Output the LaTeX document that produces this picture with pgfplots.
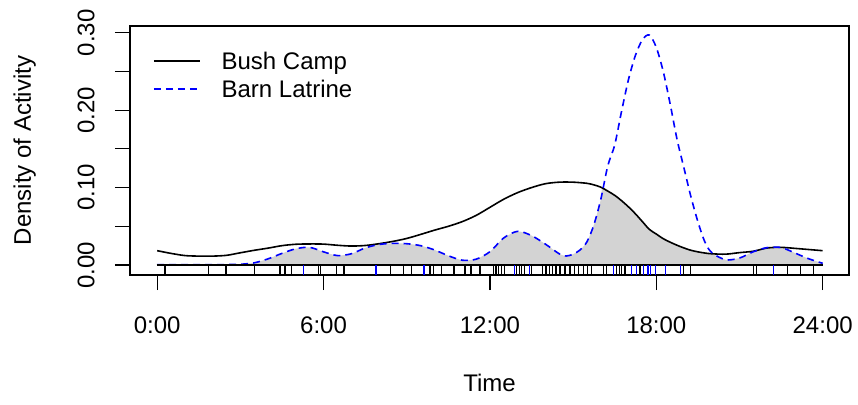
\documentclass[border=0pt]{standalone}
\usepackage{pgfplots}
\pgfplotsset{compat=1.18}
\usepackage{pgfplotstable}
\usepackage{fontspec}
\setmainfont{Liberation Sans}
\definecolor{olap}{HTML}{D3D3D3}
\definecolor{rblue}{HTML}{0000FF}

\pgfplotstableread{
h d
0 0.0185
0.5 0.0150
1 0.0122
1.5 0.0115
2 0.0115
2.5 0.0125
3 0.0158
3.5 0.0190
4 0.0218
4.5 0.0250
5 0.0268
5.5 0.0272
6 0.0270
6.5 0.0255
7 0.0245
7.5 0.0252
8 0.0275
8.5 0.0305
9 0.0343
9.5 0.0395
10 0.0450
10.5 0.0500
11 0.0560
11.5 0.0640
12 0.0745
12.5 0.0850
13 0.0935
13.5 0.1000
14 0.1050
14.5 0.1070
15 0.1070
15.5 0.1055
15.75 0.1035
16 0.1005
16.25 0.0955
16.5 0.0900
16.75 0.0830
17 0.0750
17.25 0.0660
17.5 0.0560
17.75 0.0460
18 0.0400
18.25 0.0340
18.5 0.0295
18.75 0.0255
19 0.0220
19.25 0.0190
19.5 0.0170
19.75 0.0155
20 0.0145
20.5 0.0140
21 0.0160
21.5 0.0178
22 0.0220
22.5 0.0228
23 0.0215
23.5 0.0200
24 0.0185
}\bush

\pgfplotstableread{
h d
0 0.0005
1 0.0005
2 0.0005
2.5 0.0006
3 0.0010
3.5 0.0028
4 0.0080
4.5 0.0150
5 0.0210
5.5 0.0228
6 0.0170
6.5 0.0122
7 0.0145
7.5 0.0220
8 0.0265
8.5 0.0280
9 0.0275
9.5 0.0250
10 0.0195
10.5 0.0120
11 0.0062
11.5 0.0075
12 0.0172
12.5 0.0350
13 0.0435
13.5 0.0380
14 0.0270
14.5 0.0145
14.75 0.0116
15 0.0140
15.25 0.0194
15.5 0.0300
15.75 0.0520
16 0.0850
16.25 0.1280
16.5 0.1550
16.75 0.1990
17 0.2400
17.25 0.2710
17.5 0.2910
17.75 0.2970
18 0.2810
18.25 0.2500
18.5 0.2080
18.75 0.1620
19 0.1250
19.25 0.0880
19.5 0.0560
19.75 0.0300
20 0.0160
20.5 0.0068
21 0.0090
21.5 0.0172
22 0.0225
22.5 0.0226
23 0.0155
23.5 0.0080
24 0.0022
}\barn

\pgfplotstableread{
h d
0 0
0 0.0005
1 0.0005
2 0.0005
2.5 0.0006
3 0.0010
3.5 0.0028
4 0.0080
4.5 0.0150
5 0.0210
5.5 0.0228
6 0.0170
6.5 0.0122
7 0.0145
7.5 0.0220
8 0.0265
8.5 0.0280
9 0.0275
9.5 0.0250
10 0.0195
10.5 0.0120
11 0.0062
11.5 0.0075
12 0.0172
12.5 0.0350
13 0.0435
13.5 0.0380
14 0.0270
14.5 0.0145
14.75 0.0116
15 0.0140
15.25 0.0194
15.5 0.0300
15.75 0.0520
16 0.0850
16.05 0.0990
16.25 0.0955
16.5 0.0900
16.75 0.0830
17 0.0750
17.25 0.0660
17.5 0.0560
17.75 0.0460
18 0.0400
18.25 0.0340
18.5 0.0295
18.75 0.0255
19 0.0220
19.25 0.0190
19.5 0.0170
19.75 0.0155
20 0.0145
20.5 0.0068
21 0.0090
21.5 0.0172
22 0.0220
22.5 0.0226
23 0.0155
23.5 0.0080
24 0.0022
24 0
}\overlapmin

\pgfplotstableread{
h y
0.28 -0.013
1.84 -0.013
2.48 -0.013
3.52 -0.013
4.43 -0.013
4.61 -0.013
4.85 -0.013
5.82 -0.013
5.88 -0.013
6.47 -0.013
6.74 -0.013
8.42 -0.013
8.87 -0.013
9.18 -0.013
9.84 -0.013
9.96 -0.013
10.26 -0.013
10.68 -0.013
10.72 -0.013
11.10 -0.013
11.32 -0.013
11.64 -0.013
12.12 -0.013
12.22 -0.013
12.30 -0.013
12.42 -0.013
12.54 -0.013
12.97 -0.013
13.06 -0.013
13.15 -0.013
13.24 -0.013
13.51 -0.013
13.90 -0.013
13.99 -0.013
14.05 -0.013
14.14 -0.013
14.26 -0.013
14.38 -0.013
14.53 -0.013
14.71 -0.013
14.89 -0.013
15.04 -0.013
15.19 -0.013
15.37 -0.013
15.51 -0.013
15.67 -0.013
16.09 -0.013
16.21 -0.013
16.57 -0.013
16.66 -0.013
16.75 -0.013
16.87 -0.013
17.41 -0.013
18.98 -0.013
19.22 -0.013
21.50 -0.013
21.60 -0.013
22.73 -0.013
23.19 -0.013
23.67 -0.013
}\rugbush

\pgfplotstableread{
h y
5.29 -0.013
7.89 -0.013
9.62 -0.013
12.90 -0.013
13.42 -0.013
16.45 -0.013
17.11 -0.013
17.29 -0.013
17.53 -0.013
17.67 -0.013
17.72 -0.013
17.78 -0.013
17.96 -0.013
18.32 -0.013
18.86 -0.013
22.22 -0.013
}\rugbarn

\begin{document}
\begin{tikzpicture}
\begin{axis}[
  at={(0,0)}, anchor=south west,
  scale only axis, width=359.5bp, height=124.5bp,
  xmin=-0.98, xmax=24.95, ymin=-0.0129, ymax=0.3087,
  xtick={0,6,12,18,24},
  xticklabels={0:00,6:00,12:00,18:00,24:00},
  ytick={0,0.05,0.1,0.15,0.2,0.25,0.3},
  yticklabels={0.00,,0.10,,0.20,,0.30},
  xtick pos=bottom, ytick pos=left,
  tick align=outside, major tick length=7.5bp,
  tick style={black, line width=0.6bp},
  axis line style={black, line width=0.6bp},
  tick label style={font=\fontsize{12bp}{14bp}\selectfont, inner sep=0pt},
  xticklabel style={anchor=north},
  xticklabel shift=13bp,
  yticklabel style={rotate=90, anchor=south},
  yticklabel shift=10bp,
  every axis y label/.style={at={(axis description cs:-0.1377,0.5)}, rotate=90, anchor=base, font=\fontsize{12bp}{14bp}\selectfont},
  every axis x label/.style={at={(axis description cs:0.5,-0.4659)}, anchor=base, font=\fontsize{12bp}{14bp}\selectfont},
  xlabel={Time}, ylabel={Density of Activity},
  legend image code/.code={\draw[#1] (0bp,0bp) -- (23bp,0bp);},
  legend style={at={(axis description cs:0,1)}, anchor=north west,
    xshift=11.5bp, yshift=-13.3bp, draw=none, fill=none,
    inner sep=0pt, outer sep=0pt, row sep=5.2bp, column sep=10.5bp,
    font=\fontsize{12bp}{14bp}\selectfont,
    nodes={inner sep=0pt, text depth=0pt}},
  legend cell align=left,
]
\addplot[fill=olap, draw=none, smooth, tension=0.4, forget plot] table[x=h,y=d] {\overlapmin};
\addplot[black, line width=0.8bp, smooth, tension=0.5] table[x=h,y=d] {\bush};
\addlegendentry{Bush Camp}
\addplot[rblue, line width=0.8bp, dash pattern=on 3.5bp off 2.5bp, smooth, tension=0.5] table[x=h,y=d] {\barn};
\addlegendentry{Barn Latrine}
\addplot[black, line width=0.6bp, forget plot] coordinates {(0,0) (24,0)};
\addplot[ycomb, black, line width=0.6bp, forget plot] table[x=h,y=y] {\rugbush};
\addplot[ycomb, rblue, line width=0.6bp, forget plot] table[x=h,y=y] {\rugbarn};
\end{axis}
\path[use as bounding box] (-65bp,-65bp) rectangle (364bp,137.5bp);
\end{tikzpicture}
\end{document}
